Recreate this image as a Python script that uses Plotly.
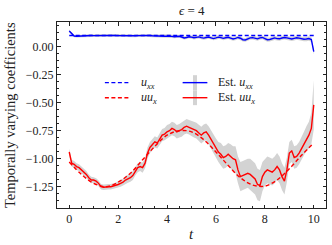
import plotly.graph_objects as go

# ---------------- data ----------------
t_est = [round(i * 0.1, 1) for i in range(101)]

est_uux = [-0.94, -1.04, -1.05, -1.07, -1.08, -1.10, -1.12, -1.14, -1.17, -1.19,
           -1.19, -1.20, -1.22, -1.25, -1.255, -1.25, -1.25, -1.25, -1.245, -1.24,
           -1.23, -1.22, -1.21, -1.19, -1.18, -1.17, -1.15, -1.11, -1.08, -1.07,
           -1.08, -1.04, -0.95, -0.90, -0.87, -0.85, -0.86, -0.82, -0.79, -0.78,
           -0.76, -0.75, -0.73, -0.74, -0.76, -0.75, -0.74, -0.72, -0.71, -0.72,
           -0.73, -0.74, -0.75, -0.77, -0.79, -0.77, -0.76, -0.79, -0.83, -0.87,
           -0.91, -0.94, -0.96, -0.99, -0.98, -0.96, -0.98, -1.00, -1.01, -1.10,
           -1.16, -1.15, -1.14, -1.13, -1.14, -1.16, -1.18, -1.23, -1.24, -1.16,
           -1.12, -1.10, -1.11, -1.12, -1.10, -1.07, -1.10, -1.16, -1.20, -1.10,
           -0.95, -0.93, -0.99, -0.98, -0.95, -0.91, -0.87, -0.82, -0.79, -0.73,
           -0.52]

std_uux = [0.03, 0.03, 0.03, 0.03, 0.03, 0.03, 0.03, 0.03, 0.03, 0.03,
           0.025, 0.025, 0.025, 0.025, 0.025, 0.025, 0.025, 0.025, 0.025, 0.025,
           0.03, 0.03, 0.03, 0.035, 0.035, 0.035, 0.04, 0.04, 0.04, 0.04,
           0.045, 0.045, 0.05, 0.05, 0.05, 0.05, 0.05, 0.055, 0.055, 0.055,
           0.06, 0.06, 0.06, 0.06, 0.06, 0.06, 0.065, 0.065, 0.065, 0.065,
           0.07, 0.07, 0.07, 0.07, 0.075, 0.075, 0.075, 0.08, 0.08, 0.085,
           0.09, 0.09, 0.10, 0.10, 0.10, 0.10, 0.11, 0.11, 0.12, 0.12,
           0.13, 0.13, 0.13, 0.13, 0.14, 0.14, 0.14, 0.14, 0.14, 0.13,
           0.12, 0.12, 0.12, 0.12, 0.12, 0.12, 0.12, 0.12, 0.12, 0.11,
           0.10, 0.10, 0.10, 0.10, 0.10, 0.10, 0.11, 0.11, 0.12, 0.14,
           0.22]

est_uxx = [0.14, 0.115, 0.095, 0.093, 0.095, 0.097, 0.098, 0.098, 0.099, 0.099,
           0.098, 0.099, 0.100, 0.100, 0.099, 0.098, 0.099, 0.100, 0.101, 0.100,
           0.099, 0.098, 0.098, 0.099, 0.100, 0.099, 0.098, 0.097, 0.098, 0.099,
           0.098, 0.096, 0.097, 0.099, 0.097, 0.095, 0.096, 0.097, 0.095, 0.093,
           0.094, 0.096, 0.092, 0.088, 0.090, 0.093, 0.086, 0.078, 0.082, 0.088,
           0.085, 0.079, 0.083, 0.087, 0.080, 0.076, 0.082, 0.086, 0.079, 0.072,
           0.078, 0.085, 0.081, 0.074, 0.079, 0.084, 0.076, 0.068, 0.074, 0.082,
           0.075, 0.062, 0.060, 0.070, 0.078, 0.080, 0.074, 0.070, 0.078, 0.082,
           0.072, 0.062, 0.064, 0.074, 0.078, 0.072, 0.070, 0.077, 0.082, 0.078,
           0.071, 0.068, 0.074, 0.079, 0.076, 0.070, 0.066, 0.068, 0.072, 0.064,
           -0.045]

std_uxx = [0.012, 0.012, 0.012, 0.012, 0.012, 0.012, 0.012, 0.012, 0.012, 0.012,
           0.012, 0.012, 0.012, 0.012, 0.012, 0.012, 0.012, 0.012, 0.012, 0.012,
           0.012, 0.012, 0.012, 0.012, 0.012, 0.012, 0.012, 0.012, 0.012, 0.012,
           0.013, 0.013, 0.013, 0.013, 0.013, 0.013, 0.013, 0.013, 0.013, 0.013,
           0.014, 0.014, 0.014, 0.014, 0.014, 0.014, 0.014, 0.014, 0.014, 0.014,
           0.015, 0.015, 0.015, 0.015, 0.015, 0.015, 0.015, 0.015, 0.015, 0.015,
           0.016, 0.016, 0.016, 0.016, 0.016, 0.016, 0.016, 0.016, 0.016, 0.016,
           0.017, 0.017, 0.017, 0.017, 0.017, 0.017, 0.017, 0.017, 0.017, 0.017,
           0.018, 0.018, 0.018, 0.018, 0.018, 0.018, 0.018, 0.018, 0.018, 0.018,
           0.018, 0.018, 0.018, 0.018, 0.018, 0.018, 0.018, 0.019, 0.020, 0.022,
           0.026]

t_true = [0.0, 0.5, 1.0, 1.5, 2.0, 2.5, 3.0, 3.5, 4.0, 4.5, 5.0,
          5.5, 6.0, 6.5, 7.0, 7.5, 8.0, 8.5, 9.0, 9.5, 10.0]
true_uux = [-1.03, -1.14, -1.22, -1.25, -1.21, -1.13, -1.01, -0.89, -0.79, -0.75, -0.76,
            -0.83, -0.94, -1.06, -1.17, -1.235, -1.245, -1.19, -1.09, -0.97, -0.86]
t_const = [0.0, 10.0]
true_uxx = [0.1, 0.1]

x_ticks = [0, 2, 4, 6, 8, 10]
y_ticks = [0.0, -0.25, -0.5, -0.75, -1.0, -1.25]

BLUE = "#0000ff"
RED = "#ff0000"
GREY = "rgb(211,211,211)"
FONT = "Liberation Serif, Times New Roman, serif"
TXT = "#222"

fig = go.Figure()

def band(t, m, s):
    up = [a + b for a, b in zip(m, s)]
    lo = [a - b for a, b in zip(m, s)]
    fig.add_trace(go.Scatter(x=t, y=up, mode="lines", line=dict(width=0),
                             showlegend=False, hoverinfo="skip"))
    fig.add_trace(go.Scatter(x=t, y=lo, mode="lines", line=dict(width=0),
                             fill="tonexty", fillcolor=GREY,
                             showlegend=False, hoverinfo="skip"))

band(t_est, est_uxx, std_uxx)
band(t_est, est_uux, std_uux)

fig.add_trace(go.Scatter(x=t_const, y=true_uxx, mode="lines",
                         line=dict(color=BLUE, width=1.4, dash="4px,2.5px"), showlegend=False))
fig.add_trace(go.Scatter(x=t_true, y=true_uux, mode="lines",
                         line=dict(color=RED, width=1.4, dash="4px,2.5px", shape="spline"),
                         showlegend=False))
fig.add_trace(go.Scatter(x=t_est, y=est_uxx, mode="lines",
                         line=dict(color=BLUE, width=1.4), showlegend=False))
fig.add_trace(go.Scatter(x=t_est, y=est_uux, mode="lines",
                         line=dict(color=RED, width=1.4), showlegend=False))

# ---------------- manual legend ----------------
rows = [0.674, 0.593]
shapes = []
annots = []
leg_true = ["<i>u</i><sub><i>xx</i></sub>", "<i>uu</i><sub><i>x</i></sub>"]
leg_est = ["Est. <i>u</i><sub><i>xx</i></sub>", "Est. <i>uu</i><sub><i>x</i></sub>"]
cols = [BLUE, RED]
for yy, c, lt, le in zip(rows, cols, leg_true, leg_est):
    shapes.append(dict(type="line", xref="x domain", yref="y domain",
                       x0=0.178, x1=0.271, y0=yy, y1=yy,
                       line=dict(color=c, width=1.4, dash="4px,2.5px")))
    shapes.append(dict(type="line", xref="x domain", yref="y domain",
                       x0=0.513, x1=0.513, y0=yy - 0.04, y1=yy + 0.04,
                       line=dict(color=GREY, width=4)))
    shapes.append(dict(type="line", xref="x domain", yref="y domain",
                       x0=0.467, x1=0.559, y0=yy, y1=yy,
                       line=dict(color=c, width=1.4)))
    annots.append(dict(xref="x domain", yref="y domain", x=0.305, y=yy, text=lt,
                       showarrow=False, xanchor="left", yanchor="middle",
                       font=dict(family=FONT, size=12, color=TXT)))
    annots.append(dict(xref="x domain", yref="y domain", x=0.590, y=yy, text=le,
                       showarrow=False, xanchor="left", yanchor="middle",
                       font=dict(family=FONT, size=12, color=TXT)))

# title, axis titles
annots.append(dict(xref="paper", yref="paper", x=0.5, y=1, yshift=2, text="<i>ϵ</i> = 4",
                   showarrow=False, xanchor="center", yanchor="bottom",
                   font=dict(family=FONT, size=13, color=TXT)))
annots.append(dict(xref="paper", yref="paper", x=0.5, y=0, yshift=-26, text="<i>t</i>",
                   showarrow=False, xanchor="center", yanchor="middle",
                   font=dict(family=FONT, size=15, color=TXT)))
annots.append(dict(xref="paper", yref="paper", x=0, xshift=-47, y=0.5,
                   text="Temporally varying coefficients", textangle=-90,
                   showarrow=False, xanchor="center", yanchor="middle",
                   font=dict(family=FONT, size=14.5, color=TXT)))

axis_common = dict(showline=True, linecolor=TXT, linewidth=1, mirror="allticks",
                   ticks="inside", ticklen=3.5, tickwidth=0.8, tickcolor=TXT,
                   showgrid=False, zeroline=False,
                   tickfont=dict(family=FONT, size=12, color=TXT))

fig.update_layout(
    width=332, height=245,
    margin=dict(l=57, r=6, t=22, b=37),
    paper_bgcolor="white", plot_bgcolor="white",
    font=dict(family=FONT, color=TXT),
    shapes=shapes, annotations=annots,
    xaxis=dict(range=[-0.5, 10.5], tickvals=x_ticks, ticktext=[str(v) for v in x_ticks],
               minor=dict(ticks="inside", dtick=0.5, tick0=0, ticklen=2, tickwidth=0.6,
                          tickcolor=TXT),
               **axis_common),
    yaxis=dict(range=[-1.44, 0.22], tickvals=y_ticks, tickformat=".2f",
               minor=dict(ticks="inside", dtick=0.0625, tick0=0, ticklen=2, tickwidth=0.6,
                          tickcolor=TXT),
               **axis_common),
)

fig.write_html("out.html",
               config={"displayModeBar": False},
               post_script="document.body.style.margin='0px';document.body.style.overflow='hidden';")
